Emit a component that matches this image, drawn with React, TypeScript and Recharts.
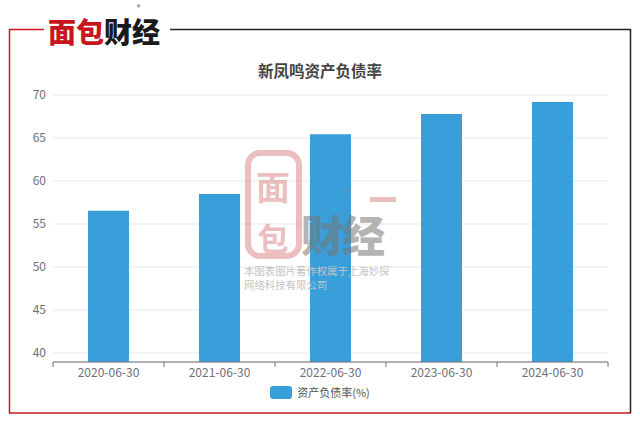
import { BarChart, Bar, XAxis, YAxis, CartesianGrid, Legend } from "recharts";

const categories = ["2020-06-30", "2021-06-30", "2022-06-30", "2023-06-30", "2024-06-30"];
const debtRatio = [56.55, 58.5, 65.45, 67.8, 69.2];
const yTicks = [40, 45, 50, 55, 60, 65, 70];
const seriesName = "资产负债率(%)";
const title = "新凤鸣资产负债率";

const data = categories.map((date, i) => ({ date, ratio: debtRatio[i] }));

const W = 640;
const H = 424;
const M = { top: 95, right: 32, left: 0, bottom: 32 };
const Y_AXIS_W = 53;
const X_AXIS_H = 30;
const AXIS_Y = H - M.bottom - X_AXIS_H;
const BAND = (W - M.left - M.right - Y_AXIS_W) / categories.length;
const BLUE = "#389fdb";
const FONT = "'Noto Sans CJK SC', 'Noto Sans', sans-serif";

function DateTick(props: any) {
  const { x, payload, index } = props;
  const left = x - BAND / 2;
  return (
    <g>
      <line x1={left} x2={left} y1={AXIS_Y} y2={AXIS_Y + 5} stroke="#6e7079" />
      {index === categories.length - 1 && (
        <line x1={x + BAND / 2} x2={x + BAND / 2} y1={AXIS_Y} y2={AXIS_Y + 5} stroke="#6e7079" />
      )}
      <text x={x} y={AXIS_Y + 15} textAnchor="middle" fontSize={12} fill="#6e7079" fontFamily={FONT}>
        {payload.value}
      </text>
    </g>
  );
}

function LegendBox(props: any) {
  const item = props.payload?.[0];
  return (
    <div style={{ display: "flex", justifyContent: "center", alignItems: "center", fontFamily: FONT }}>
      <span style={{ width: 22, height: 13, borderRadius: 3, background: item?.color || BLUE, marginRight: 5 }} />
      <span style={{ fontSize: 11, color: "#555" }}>{seriesName}</span>
    </div>
  );
}

function Frame() {
  return (
    <svg width={W} height={H} style={{ position: "absolute", left: 0, top: 0 }}>
      <line x1={9.5} x2={9.5} y1={29} y2={413.5} stroke="#c8161d" strokeWidth={1.5} />
      <line x1={9} x2={44} y1={29.5} y2={29.5} stroke="#c8161d" strokeWidth={1.5} />
      <line x1={9} x2={631} y1={413} y2={413} stroke="#c8161d" strokeWidth={1.5} />
      <line x1={170} x2={631} y1={29.5} y2={29.5} stroke="#222" strokeWidth={1.5} />
      <line x1={630.5} x2={630.5} y1={29} y2={413} stroke="#222" strokeWidth={1.5} />
      <text x={48} y={43} fontSize={28} fontWeight={900} fontFamily={FONT} letterSpacing={0}>
        <tspan fill="#c8161d">面包</tspan>
        <tspan fill="#1a1a1a">财经</tspan>
      </text>
      <text x={137} y={9.5} fontSize={7} fill="#333" fontFamily={FONT}>®</text>
    </svg>
  );
}

function Watermark() {
  return (
    <svg width={W} height={H} style={{ position: "absolute", left: 0, top: 0, pointerEvents: "none" }}>
      <g opacity={0.55}>
        <rect x={248} y={153} width={51} height={103} rx={12} fill="none" stroke="#dc8c8c" strokeWidth={6} />
        <text x={273} y={200} textAnchor="middle" fontSize={34} fontWeight={700} fill="#dc8c8c" fontFamily={FONT}>面</text>
        <text x={273} y={250} textAnchor="middle" fontSize={31} fontWeight={700} fill="#dc8c8c" fontFamily={FONT}>包</text>
        <rect x={370} y={197} width={26} height={5} fill="#dc8c8c" />
        <text x={301} y={252} fontSize={43} fontWeight={900} fill="#777" fontFamily={FONT} letterSpacing={-2}>财经</text>
        <text x={346} y={197} fontSize={11} fill="#888" fontFamily={FONT}>®</text>
      </g>
      <text x={244} y={275} fontSize={10.4} fill="#c4c4c4" fontFamily={FONT}>本图表图片著作权属于上海妙探</text>
      <text x={244} y={289} fontSize={10.4} fill="#c4c4c4" fontFamily={FONT}>网络科技有限公司</text>
    </svg>
  );
}

export default function App() {
  return (
    <div style={{ position: "absolute", left: 0, top: 0, width: W, height: H, background: "#fff", fontFamily: FONT }}>
      <Frame />
      <div
        style={{
          position: "absolute",
          top: 59,
          left: 0,
          width: W,
          textAlign: "center",
          fontSize: 15.5,
          fontWeight: 700,
          color: "#444",
          lineHeight: "22px",
        }}
      >
        {title}
      </div>
      <div style={{ position: "absolute", left: 0, top: 0 }}>
        <BarChart width={W} height={H} data={data} margin={M}>
          <CartesianGrid vertical={false} stroke="#e6e9f0" />
          <XAxis
            dataKey="date"
            height={X_AXIS_H}
            tickLine={false}
            tick={<DateTick />}
            axisLine={{ stroke: "#6e7079" }}
            interval={0}
          />
          <YAxis
            width={Y_AXIS_W}
            domain={[38.95, 70]}
            ticks={yTicks}
            axisLine={false}
            tickLine={false}
            tickSize={0}
            tickMargin={7}
            tick={{ fontSize: 12, fill: "#6e7079", fontFamily: FONT }}
          />
          <Legend
            verticalAlign="middle"
            align="center"
            content={<LegendBox />}
            wrapperStyle={{ left: 0, width: W, top: 384 }}
          />
          <Bar dataKey="ratio" name={seriesName} fill={BLUE} barSize={41} isAnimationActive={false} />
        </BarChart>
      </div>
      <Watermark />
    </div>
  );
}
